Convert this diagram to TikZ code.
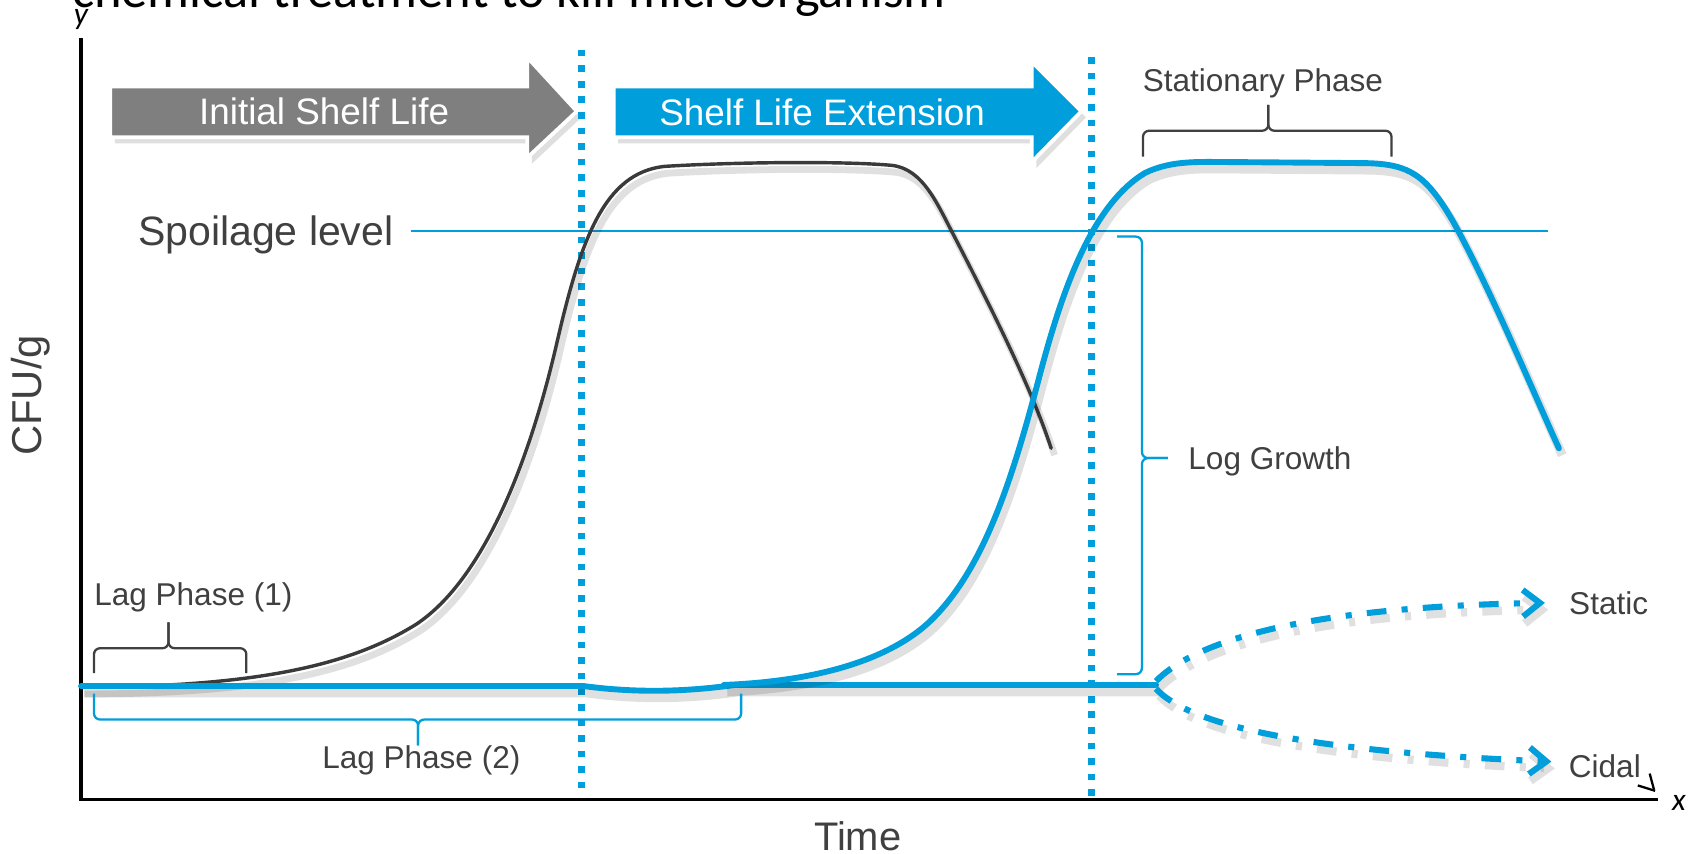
\documentclass[tikz,border=0pt]{standalone}
\usepackage{fontspec}
\setmainfont{Liberation Sans}
\newfontfamily\carlito{Carlito}
\usetikzlibrary{arrows.meta,shadows}

\definecolor{cblue}{HTML}{009EDA}
\definecolor{cgrayarrow}{HTML}{7F7F7F}
\definecolor{ctext}{HTML}{404040}
\definecolor{ccurve}{HTML}{3A3A3A}

\begin{document}
\begin{tikzpicture}[x=0.01cm,y=-0.01cm,
  lbl/.style={text=ctext, inner sep=0pt, anchor=base, font=\fontsize{8.3}{10}\selectfont},
  biglbl/.style={text=ctext, inner sep=0pt, anchor=base, font=\fontsize{10.8}{13}\selectfont},
  arrowtxt/.style={text=white, inner sep=0pt, anchor=base, font=\fontsize{9.7}{12}\selectfont},
  axislbl/.style={text=black, inner sep=0pt, anchor=base, font=\carlito\itshape\fontsize{8.3}{10}\selectfont},
  softshadow/.style={preaction={draw=black, draw opacity=0.12, line width=#1,
      transform canvas={shift={(0.9pt,-1.8pt)}}}},
  dashshadow/.style={preaction={draw=black, draw opacity=0.12, line width=2.2pt,
      dash pattern=on 5.2pt off 4pt on 1.6pt off 4pt,
      transform canvas={shift={(0.9pt,-1.8pt)}}}},
  gcurve/.style={draw=ccurve, line width=0.9pt, line cap=round, softshadow=1.8pt},
  bcurve/.style={draw=cblue, line width=1.55pt, line cap=round, softshadow=2.4pt},
  phaseline/.style={draw=cblue, line width=1.9pt, dash pattern=on 1.75pt off 2.35pt},
  darkbrace/.style={draw=ctext, line width=0.6pt, rounded corners=1.6pt},
  bluebrace/.style={draw=cblue, line width=0.6pt, rounded corners=1.6pt},
  branch/.style={draw=cblue, line width=1.6pt, dash pattern=on 5.2pt off 4pt on 1.6pt off 4pt,
      -{Straight Barb[length=4.5pt,width=7pt]}, dashshadow},
  bigarrow/.style={draw=white, line width=1pt, line join=miter,
      drop shadow={opacity=0.25, shadow xshift=1.2pt, shadow yshift=-1.6pt}}
]
\useasboundingbox (0,0) rectangle (1568,790);
\fill[white] (0,0) rectangle (1568,790);
\clip (0,0) rectangle (1568,790);

% heading line running off the top edge
\node[anchor=base west, inner sep=0pt, text=black, font=\carlito\fontsize{13.8}{16}\selectfont]
  (heading) at (66,7) {chemical treatment to kill microorganism};

% axes
\coordinate (O) at (75,740);
\coordinate (ytop) at (75,35);
\coordinate (xend) at (1535,740);
\draw[black, line width=1pt] (ytop) -- (O) -- (xend);
\node[axislbl] (ylab) at (75,23) {y};
\node[axislbl] (xlab) at (1554,750) {x};
\draw[black, line width=0.6pt] (1516,727) -- (1532,732);
\draw[black, line width=0.6pt] (1527,716) -- (1531,731);
\node[text=ctext, inner sep=0pt, rotate=90, font=\fontsize{11}{13}\selectfont] (cfu) at (28,366) {CFU/g};
\node[text=ctext, inner sep=0pt, anchor=base, font=\fontsize{10.5}{13}\selectfont] (time) at (794,787) {Time};

% phase arrows
\filldraw[fill=cgrayarrow, bigarrow] (102,80) -- (488,80) -- (488,53) -- (534,103) -- (488,146) -- (488,127) -- (102,127) -- cycle;
\node[arrowtxt] (initial) at (300,115) {Initial Shelf Life};
\filldraw[fill=cblue, bigarrow] (568,80) -- (955,80) -- (955,57) -- (1001,103) -- (955,150) -- (955,127) -- (568,127) -- cycle;
\node[arrowtxt] (extension) at (761,116) {Shelf Life Extension};

% end of each shelf life
\draw[phaseline] (538,46) -- (538,734);
\draw[phaseline] (1010,53) -- (1010,737);

% spoilage threshold
\coordinate (spl) at (380,214);
\coordinate (spr) at (1433,214);
\draw[cblue, line width=0.6pt] (spl) -- (spr);
\node[biglbl] (spoil) at (246,227) {Spoilage level};

% untreated growth curve
\draw[gcurve] (75,636) .. controls (250,636) and (330,612) .. (385,578)
  .. controls (450,535) and (492,420) .. (516,315)
  .. controls (538,220) and (560,160) .. (615,154)
  .. controls (680,150) and (780,149) .. (825,153)
  .. controls (855,156) and (868,190) .. (885,222)
  .. controls (920,290) and (955,360) .. (973,415);

% treated growth curve
\coordinate (split) at (1070,634);
\draw[bcurve] (75,635) -- (540,635) .. controls (585,641) and (630,641) .. (680,634) -- (split);
\draw[bcurve] (670,634) .. controls (770,630) and (830,605) .. (862,574)
  .. controls (912,525) and (938,440) .. (963,345)
  .. controls (983,270) and (1010,190) .. (1060,160)
  .. controls (1085,148) and (1110,150) .. (1140,150)
  -- (1265,151)
  .. controls (1305,152) and (1320,162) .. (1345,205)
  .. controls (1380,268) and (1420,365) .. (1443,415);

% static / cidal branches
\node[lbl] (static) at (1489,569) {Static};
\node[lbl] (cidal) at (1485.5,720) {Cidal};
\coordinate (statictip) at (1430,558);
\coordinate (cidaltip) at (1436,705);
\draw[branch] ([yshift=1pt]split) .. controls (1105,595) and (1200,562) .. (statictip);
\draw[branch] ([yshift=-1pt]split) .. controls (1100,670) and (1200,695) .. (cidaltip);

% braces
\draw[darkbrace] (87,623) -- (87,600) -- (156,600) -- (156,576);
\draw[darkbrace] (228,623) -- (228,600) -- (156,600) -- (156,576);
\node[lbl] (lag1) at (179,560) {Lag Phase (1)};

\draw[bluebrace] (87,642) -- (87,666) -- (387,666) -- (387,690);
\draw[bluebrace] (686,642) -- (686,666) -- (387,666) -- (387,690);
\node[lbl] (lag2) at (390,711) {Lag Phase (2)};

\draw[bluebrace] (1034,219) -- (1057,219) -- (1057,424) -- (1081,424);
\draw[bluebrace] (1034,624) -- (1057,624) -- (1057,424) -- (1081,424);
\node[lbl] (loggrowth) at (1175.5,435) {Log Growth};

\draw[darkbrace] (1058,145) -- (1058,121) -- (1174,121) -- (1174,97);
\draw[darkbrace] (1288,145) -- (1288,121) -- (1174,121) -- (1174,97);
\node[lbl] (stationary) at (1169,85) {Stationary Phase};
\end{tikzpicture}
\end{document}
